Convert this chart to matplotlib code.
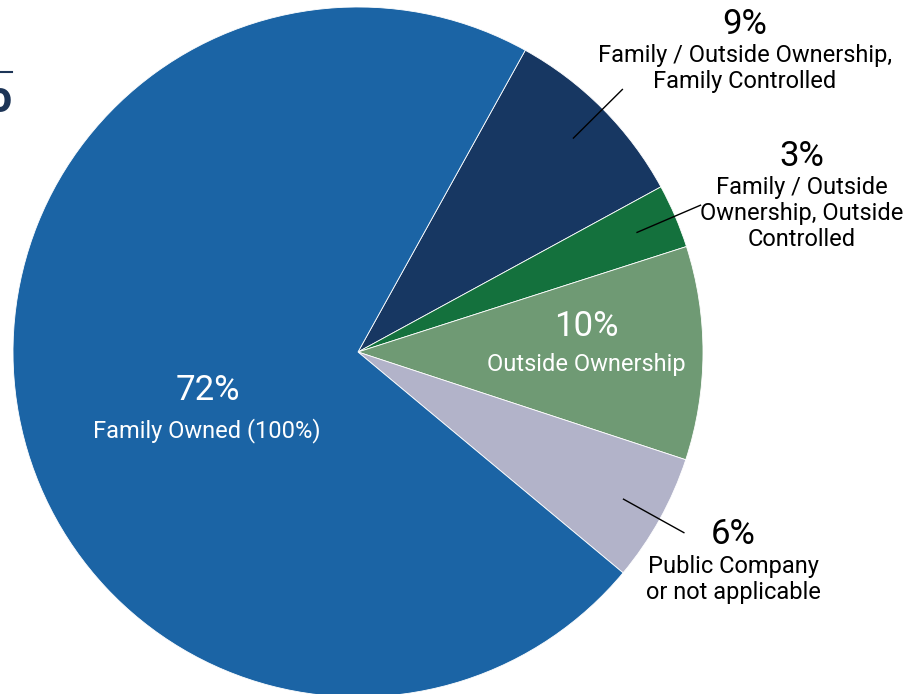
import numpy as np
import matplotlib.pyplot as plt

# Datos del gráfico
labels = ["Family / Outside Ownership,\nFamily Controlled",
          "Family / Outside\nOwnership, Outside\nControlled",
          "Outside Ownership",
          "Public Company\nor not applicable",
          "Family Owned (100%)"]
values = [9, 3, 10, 6, 72]
colors = ["#173762", "#14713d", "#6f9a74", "#b2b3c9", "#1b64a5"]

plt.rcParams['font.family'] = ['Roboto', 'DejaVu Sans']

W, H = 920, 694
fig = plt.figure(figsize=(9.2, 6.94), dpi=100)
ax = fig.add_axes([0, 0, 1, 1])

R = 345
cx, cy = 358, H - 352
wedges, _ = ax.pie(values, colors=colors, radius=R, center=(cx, cy),
                   startangle=61, counterclock=False,
                   wedgeprops=dict(edgecolor='white', linewidth=0.6))
ax.set_xlim(0, W)
ax.set_ylim(0, H)
ax.set_aspect('equal')
ax.axis('off')

def mid(w):
    return np.deg2rad((w.theta1 + w.theta2) / 2)

# Etiquetas externas con línea guía
ext = {0: (745, 24), 1: (802, 156), 3: (733, 535)}
for i, (tx, ty) in ext.items():
    a = mid(wedges[i])
    ax.plot([cx + 0.88 * R * np.cos(a), cx + 1.08 * R * np.cos(a)],
            [cy + 0.88 * R * np.sin(a), cy + 1.08 * R * np.sin(a)],
            color='black', lw=1)
    ax.text(tx, H - ty, f"{values[i]}%", ha='center', va='center',
            fontsize=25, color='black')
    ax.text(tx, H - ty - 20, labels[i], ha='center', va='top',
            fontsize=17, color='black', linespacing=1.17)

# Etiquetas internas
ax.text(586, H - 326, f"{values[2]}%", ha='center', va='center', fontsize=25, color='white')
ax.text(586, H - 364, labels[2], ha='center', va='center', fontsize=17, color='white')
ax.text(208, H - 391, f"{values[4]}%", ha='center', va='center', fontsize=25, color='white')
ax.text(207, H - 431, labels[4], ha='center', va='center', fontsize=17, color='white')

# Título recortado a la izquierda
ax.plot([0, 12], [H - 72, H - 72], color='#1d3557', lw=1.5)
ax.text(-14, H - 100, "o", ha='left', va='center', fontsize=32,
        fontweight='bold', color='#1d3557')

fig.savefig("out.png", dpi=100)
